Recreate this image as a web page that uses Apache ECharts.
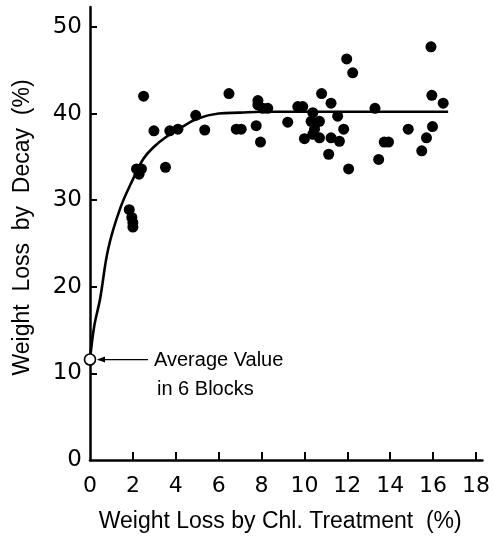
<!DOCTYPE html>
<html>
<head>
<meta charset="utf-8">
<script src="https://cdn.jsdelivr.net/npm/echarts@6/dist/echarts.min.js"></script>
<style>html,body{margin:0;padding:0;background:#fff}#c{width:493px;height:538px}</style>
</head>
<body>
<div id="c"></div>
<script>
// Observed points: weight loss by chlorine treatment (%) vs weight loss by decay (%)
const chlLoss = [1.83,1.95,2.0,2.0,2.17,2.40,2.29,2.5,2.98,3.52,3.72,4.1,4.93,5.35,6.48,6.82,7.05,7.75,7.83,7.83,8.06,8.29,7.95,9.22,9.69,9.92,10.8,11.24,11.55,10.39,10.31,10.54,10.7,10.47,10.0,10.39,10.7,11.24,11.63,11.83,11.13,12.06,11.97,12.25,13.29,15.9,15.94,16.47,14.84,15.97,15.69,13.72,13.92,15.47,13.46];
const decayLoss = [28.9,28.0,27.4,26.9,33.6,33.6,33.0,42.0,38.0,33.8,38.0,38.2,39.8,38.1,42.3,38.2,38.2,38.6,41.0,41.5,40.6,40.6,36.7,39.0,40.8,40.8,42.3,41.2,39.7,40.1,39.1,38.9,39.1,38.2,37.1,37.6,37.2,37.2,36.8,38.2,35.3,33.6,46.3,44.7,40.6,47.7,42.1,41.2,38.2,38.5,37.2,36.7,36.7,35.7,34.7];
// Average value in 6 blocks (untreated)
const avgX = [0];
const avgY = [11.6];
// Fitted curve
const curveX = [0,0.2,0.47,0.85,1.4,2.0,2.5,3.0,3.5,4.2,5.0,6.0,7.0,8.0,10.0,12.0,14.0,16.7];
const curveY = [11.6,15.5,18.6,24.4,29.0,32.4,34.8,36.2,37.2,38.3,39.4,40.0,40.1,40.2,40.2,40.2,40.2,40.2];
const xTicks = [0,2,4,6,8,10,12,14,16,18];
const yTicks = [0,10,20,30,40,50];
const annotation = ['Average Value', 'in 6 Blocks'];

const FONT = 'Liberation Sans';
const TICKFONT = 'DejaVu Sans';
const chart = echarts.init(document.getElementById('c'), null, {renderer: 'canvas'});
const pts = chlLoss.map((x, i) => [x, decayLoss[i]]);
const curve = curveX.map((x, i) => [x, curveY[i]]);
const avg = avgX.map((x, i) => [x, avgY[i]]);

chart.setOption({
  animation: false,
  backgroundColor: '#fff',
  grid: {left: 90, right: 9, top: 7, bottom: 76, containLabel: false},
  xAxis: {
    type: 'value', min: 0, max: 18.3, interval: 2,
    splitLine: {show: false},
    axisLine: {onZero: false, lineStyle: {color: '#000', width: 2.5}},
    axisTick: {inside: true, length: 8, lineStyle: {color: '#000', width: 2}, customValues: xTicks.slice(1)},
    axisLabel: {color: '#000', fontFamily: TICKFONT, fontSize: 22, margin: 15, customValues: xTicks},
    name: 'Weight Loss by Chl. Treatment  (%)',
    nameLocation: 'middle', nameGap: 50,
    nameTextStyle: {color: '#000', fontFamily: FONT, fontSize: 23, padding: [0, 12, 0, 0]}
  },
  yAxis: {
    type: 'value', min: 0, max: 52.3, interval: 10,
    splitLine: {show: false},
    axisLine: {onZero: false, lineStyle: {color: '#000', width: 2.5}},
    axisTick: {inside: true, length: 7, lineStyle: {color: '#000', width: 2}, customValues: yTicks.slice(1)},
    axisLabel: {color: '#000', fontFamily: TICKFONT, fontSize: 23, margin: 8, customValues: yTicks},
    name: 'Weight  Loss  by  Decay  (%)',
    nameLocation: 'middle', nameGap: 56,
    nameTextStyle: {color: '#000', fontFamily: FONT, fontSize: 23, padding: [0, 0, 0, 12]}
  },
  series: [
    {type: 'line', data: curve, smooth: 0.4, symbol: 'none', z: 2,
     lineStyle: {color: '#000', width: 2.6}},
    {type: 'scatter', data: pts, symbol: 'circle', symbolSize: 11, z: 3,
     itemStyle: {color: '#000', opacity: 1}},
    {type: 'scatter', data: avg, symbol: 'circle', symbolSize: 11, z: 4,
     itemStyle: {color: '#fff', borderColor: '#000', borderWidth: 1.6, opacity: 1}}
  ]
});

const p = chart.convertToPixel({seriesIndex: 2}, avg[0]);
chart.setOption({
  graphic: [
    {type: 'line', z: 10, shape: {x1: p[0] + 8, y1: p[1], x2: p[0] + 58, y2: p[1]},
     style: {stroke: '#000', lineWidth: 1.3}},
    {type: 'polygon', z: 10, shape: {points: [[p[0] + 7, p[1]], [p[0] + 15, p[1] - 3], [p[0] + 15, p[1] + 3]]},
     style: {fill: '#000'}},
    {type: 'text', z: 10, x: p[0] + 64, y: p[1] + 1,
     style: {text: annotation[0], fill: '#000', font: '20px "' + FONT + '"', verticalAlign: 'middle', align: 'left'}},
    {type: 'text', z: 10, x: p[0] + 67, y: p[1] + 30,
     style: {text: annotation[1], fill: '#000', font: '20px "' + FONT + '"', verticalAlign: 'middle', align: 'left'}}
  ]
});
</script>
</body>
</html>
